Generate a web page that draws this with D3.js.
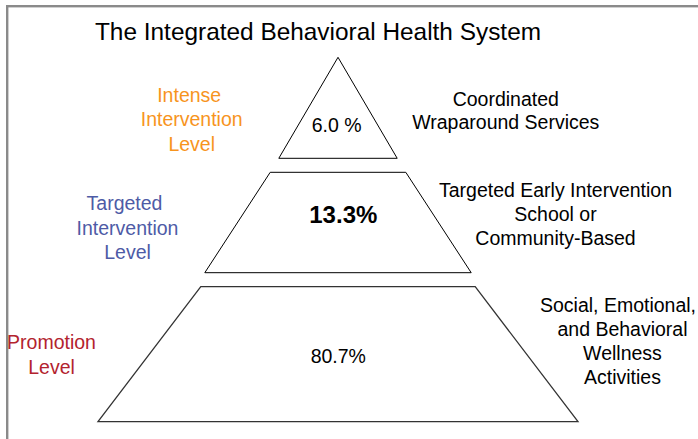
<!DOCTYPE html>
<html>
<head>
<meta charset="utf-8">
<script src="https://cdn.jsdelivr.net/npm/d3@7"></script>
<style>
  html, body { margin: 0; padding: 0; background: #fff; }
  svg { display: block; }
  text { font-family: "Liberation Sans", Arial, sans-serif; }
</style>
</head>
<body>
<svg id="chart" width="698" height="439"></svg>
<script>
// ---- data ----
const title = "The Integrated Behavioral Health System";
const tiers = ["Intense Intervention", "Targeted Intervention", "Promotion"];
const shares = [6.0, 13.3, 80.7];
const shareLabels = ["6.0 %", "13.3%", "80.7%"];
const levelLabels = [
  ["Intense", "Intervention", "Level"],
  ["Targeted", "Intervention", "Level"],
  ["Promotion", "Level"]
];
const serviceLabels = [
  ["Coordinated", "Wraparound Services"],
  ["Targeted Early Intervention", "School or", "Community-Based"],
  ["Social, Emotional,", "and Behavioral", "Wellness", "Activities"]
];
const levelColors = ["#F7941D", "#4E5BA6", "#B3232E"];

// ---- layout ----
const svg = d3.select("#chart");
const W = 698, H = 439;

// frame
svg.append("rect").attr("x", 6).attr("y", 5).attr("width", W - 6).attr("height", 2.4).attr("fill", "#8a8a8a");
svg.append("rect").attr("x", 6).attr("y", 5).attr("width", 2.4).attr("height", H - 5).attr("fill", "#8a8a8a");

// title
svg.append("text")
  .attr("x", 318).attr("y", 40)
  .attr("text-anchor", "middle")
  .attr("font-size", 24.4)
  .attr("fill", "#000")
  .text(title);

// tier geometry: vertical band (top, bottom) and half-widths (top, bottom) in pyramid units
const tierTop = [0, 115, 229.4];
const tierBottom = [101, 215.4, 364.4];
const halfTop = [0, 67.8, 137.2];
const halfBottom = [59.2, 133.2, 240];

const cx = 338;
const y = d3.scaleLinear().domain([0, 364.4]).range([57.3, 421.7]);
const x = d3.scaleLinear().domain([-240, 240]).range([cx - 240, cx + 240]);

const line = d3.line().x(d => x(d[0])).y(d => y(d[1]));

tiers.forEach((t, i) => {
  const pts = halfTop[i] === 0
    ? [[0, tierTop[i]], [halfBottom[i], tierBottom[i]], [-halfBottom[i], tierBottom[i]]]
    : [[-halfTop[i], tierTop[i]], [halfTop[i], tierTop[i]], [halfBottom[i], tierBottom[i]], [-halfBottom[i], tierBottom[i]]];
  svg.append("path")
    .attr("d", line(pts) + "Z")
    .attr("fill", "#fff")
    .attr("stroke", i === 2 ? "#333" : "#000")
    .attr("stroke-width", i === 2 ? 1.3 : 1);
});

// share labels
const shareBaselines = [131.7, 223.3, 362.7];
const shareX = [336.7, 343.3, 338.3];
shareLabels.forEach((s, i) => {
  svg.append("text")
    .attr("x", shareX[i]).attr("y", shareBaselines[i])
    .attr("text-anchor", "middle")
    .attr("font-size", i === 1 ? 24 : 19.5)
    .attr("font-weight", i === 1 ? "bold" : "normal")
    .attr("fill", "#000")
    .text(s);
});

// multi-line labels helper
function block(lines, cxPos, firstBaseline, step, color, firstShift) {
  const t = svg.append("text")
    .attr("text-anchor", "middle")
    .attr("font-size", 19.5)
    .attr("fill", color);
  lines.forEach((ln, k) => {
    t.append("tspan")
      .attr("x", cxPos + (k === 0 ? firstShift : 0))
      .attr("y", firstBaseline + k * step)
      .text(ln);
  });
}

const levelX = [191.7, 127.5, 51.5];
const levelY0 = [101.7, 210, 349.3];
const levelShift = [-2.5, -3, 0];
levelLabels.forEach((lines, i) => block(lines, levelX[i], levelY0[i], 24.5, levelColors[i], levelShift[i]));

const serviceX = [505.8, 555.5, 622.5];
const serviceY0 = [106, 196.7, 311.7];
const serviceShift = [0, 0, -4.5];
serviceLabels.forEach((lines, i) => block(lines, serviceX[i], serviceY0[i], i === 0 ? 23.3 : 24, "#000", serviceShift[i]));
</script>
</body>
</html>
